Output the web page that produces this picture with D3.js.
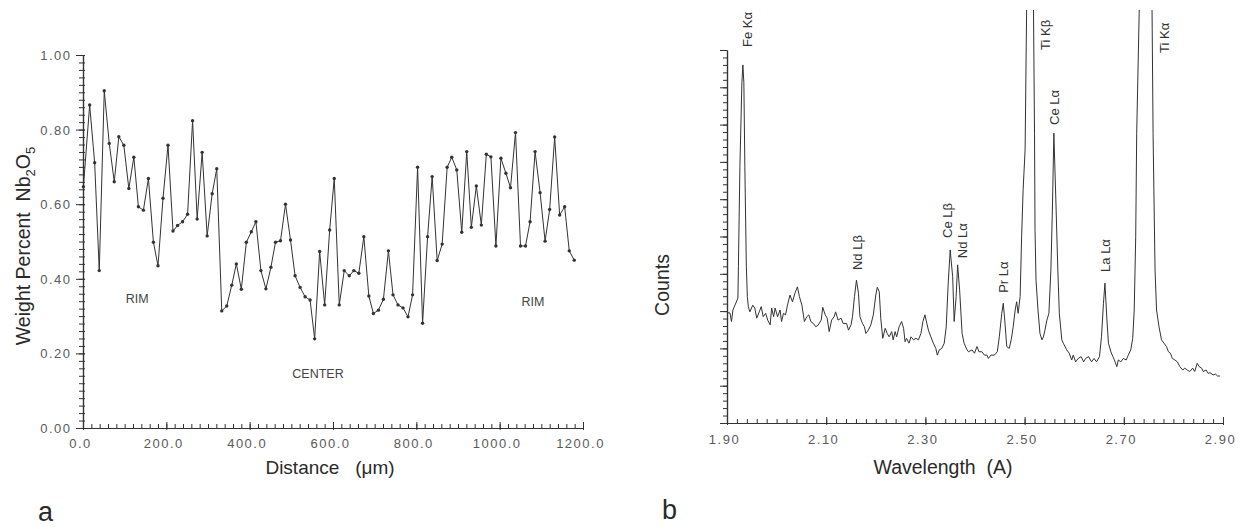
<!DOCTYPE html>
<html>
<head>
<meta charset="utf-8">
<script src="https://cdn.jsdelivr.net/npm/d3@7"></script>
<style>
  body { margin: 0; background: #fff; }
  text { font-family: "Liberation Sans", Arial, Helvetica, sans-serif; fill: #2a2a2a; }
  .tick-label { font-size: 13px; letter-spacing: 1.5px; fill: #5a5a5a; }
</style>
</head>
<body>
<svg width="1248" height="529"></svg>
<script>
// ---- panel a : Nb2O5 profile ----
const distance = [1,16,28,39, 51,63,75,86, 98,110,122,133, 145,157,169,180, 192,204,216,227,
  239,251,263,274, 286,298,310,321, 333,345,357,368, 380,392,404,415, 427,439,451,462,
  474,486,498,509, 521,533,545,556, 568,580,592,603, 615,627,639,650, 662,674,686,697,
  709,721,733,744, 756,768,780,791, 803,815,827,838, 850,862,874,885, 897,909,921,932,
  944,956,968,979, 991,1003,1015,1026, 1038,1050,1062,1073, 1085,1097,1109,1120, 1132,1144,1156,1167,
  1179];
const nb2o5 = [0.647,0.866,0.711,0.422,0.904,0.763,0.660,0.781,0.758,0.642,
  0.726,0.593,0.584,0.669,0.498,0.435,0.616,0.758,0.528,0.543,
  0.553,0.573,0.824,0.560,0.739,0.515,0.628,0.695,0.314,0.327,
  0.383,0.440,0.372,0.498,0.526,0.553,0.422,0.373,0.431,0.498,
  0.502,0.600,0.504,0.408,0.377,0.352,0.343,0.239,0.473,0.330,
  0.531,0.669,0.330,0.422,0.408,0.422,0.415,0.513,0.354,0.307,
  0.316,0.345,0.475,0.357,0.330,0.322,0.298,0.357,0.699,0.281,
  0.513,0.674,0.449,0.493,0.699,0.726,0.692,0.525,0.741,0.538,
  0.649,0.544,0.734,0.727,0.488,0.723,0.683,0.644,0.792,0.488,
  0.488,0.553,0.741,0.631,0.501,0.586,0.780,0.571,0.593,0.475,
  0.450];
const distTicks = [0, 200, 400, 600, 800, 1000, 1200];
const wtTicks = [0, 0.2, 0.4, 0.6, 0.8, 1.0];
const zoneNames = ["RIM", "CENTER", "RIM"];
const zoneDist = [130, 564, 1080];
const zoneWt = [0.335, 0.134, 0.327];

// ---- panel b : WDS spectrum ----
const wavelength = [1.900,1.906,1.909,1.912,1.918,1.922,1.923,1.926,1.930,1.932,
  1.934,1.936,1.939,1.941,1.943,1.946,1.952,1.956,1.960,1.965,
  1.969,1.973,1.978,1.982,1.987,1.990,1.994,1.997,2.002,2.007,
  2.010,2.014,2.018,2.022,2.027,2.032,2.037,2.042,2.046,2.051,
  2.056,2.061,2.065,2.069,2.074,2.079,2.084,2.090,2.093,2.098,
  2.102,2.106,2.111,2.116,2.119,2.124,2.130,2.134,2.141,2.145,
  2.150,2.153,2.157,2.161,2.165,2.168,2.173,2.177,2.180,2.185,
  2.190,2.195,2.200,2.203,2.207,2.210,2.214,2.219,2.223,2.227,
  2.232,2.235,2.239,2.242,2.247,2.252,2.256,2.259,2.262,2.267,
  2.271,2.276,2.281,2.286,2.291,2.295,2.299,2.303,2.306,2.311,
  2.316,2.321,2.324,2.328,2.333,2.338,2.342,2.346,2.350,2.355,
  2.358,2.362,2.365,2.369,2.374,2.378,2.384,2.387,2.394,2.399,
  2.404,2.408,2.414,2.419,2.424,2.427,2.432,2.439,2.445,2.449,
  2.454,2.457,2.460,2.464,2.469,2.473,2.477,2.481,2.484,2.487,
  2.491,2.494,2.497,2.501,2.504,2.511,2.518,2.520,2.521,2.523,
  2.527,2.531,2.535,2.538,2.541,2.545,2.549,2.553,2.556,2.559,
  2.563,2.567,2.570,2.575,2.578,2.585,2.590,2.595,2.598,2.603,
  2.608,2.614,2.619,2.623,2.629,2.635,2.640,2.645,2.651,2.655,
  2.659,2.662,2.666,2.669,2.674,2.678,2.681,2.686,2.689,2.694,
  2.699,2.705,2.709,2.714,2.718,2.721,2.724,2.726,2.731,2.744,
  2.757,2.759,2.763,2.766,2.771,2.776,2.781,2.786,2.790,2.794,
  2.798,2.803,2.808,2.813,2.819,2.823,2.828,2.833,2.839,2.843,
  2.848,2.852,2.857,2.860,2.866,2.870,2.874,2.880,2.885,2.889,
  2.894];
const counts = [29.6,29.5,27.2,30.3,32.2,33.5,41.9,68.7,91.2,96.0,
  91.2,68.7,41.9,33.9,31.2,29.8,31.6,30.8,28.1,29.8,
  31.2,28.5,29.4,27.6,26.3,30.8,28.5,30.8,28.5,30.3,
  27.2,29.4,29.0,31.6,34.3,32.5,34.8,36.5,33.9,31.6,
  27.2,28.5,29.0,27.2,26.7,25.8,26.3,27.6,31.0,29.0,
  28.1,24.5,27.6,28.5,29.8,27.6,28.1,26.7,26.7,24.9,
  26.3,28.5,33.9,38.3,34.8,28.5,26.7,25.8,24.0,24.9,
  26.3,29.0,34.3,36.4,35.2,28.1,22.7,25.4,24.0,23.1,
  24.5,22.3,24.5,23.1,25.8,27.2,25.4,21.8,22.7,21.4,
  23.1,22.3,22.7,22.3,24.0,27.2,29.0,26.7,24.9,23.1,
  21.4,20.0,18.2,19.6,20.0,21.4,25.8,37.5,46.4,39.2,
  27.2,33.9,42.4,35.7,24.0,21.4,19.6,19.1,19.6,18.7,
  20.5,19.1,19.1,18.2,18.2,17.3,18.2,18.2,19.1,23.1,
  29.4,32.1,27.6,20.5,20.0,22.3,25.8,30.3,32.5,29.4,
  33.9,49.9,62.5,73.2,109.9,172.4,109.9,77.7,51.7,38.3,
  30.3,24.0,22.3,23.1,24.9,27.6,29.4,41.0,57.1,77.7,
  59.8,41.0,29.4,22.3,21.4,19.6,18.7,16.9,18.2,16.4,
  17.3,17.8,16.4,17.3,17.8,16.4,17.3,16.4,17.8,23.1,
  32.1,37.5,27.6,21.4,19.1,17.8,16.9,15.1,16.9,16.4,
  17.3,16.9,18.2,19.6,22.7,30.3,49.9,77.7,109.9,201.9,
  109.9,77.7,41.0,30.3,25.8,22.3,21.4,20.5,19.1,18.7,
  17.3,16.9,16.4,15.1,14.2,14.7,14.2,13.8,14.7,13.8,
  16.0,15.1,14.7,13.8,14.2,13.3,13.5,12.9,13.1,12.6,
  12.6];
const waveTicks = [1.9, 2.1, 2.3, 2.5, 2.7, 2.9];
const peakNames = ["Fe K\u03b1", "Nd L\u03b2", "Ce L\u03b2", "Nd L\u03b1", "Pr L\u03b1",
  "Ti K\u03b2", "Ce L\u03b1", "La L\u03b1", "Ti K\u03b1"];
const peakWave = [1.942, 2.162, 2.3435, 2.374, 2.458, 2.543, 2.561, 2.662, 2.781];
const peakCount = [100.8, 41.0, 49.6, 44.2, 34.9, 100.0, 79.9, 40.5, 99.2];

const svg = d3.select("svg");

// tick styling helper: major ticks cross the axis, minor ticks are short
function styleAxis(g, horiz, inA, outA) {
  g.select(".domain").attr("stroke", "#333").attr("stroke-width", 1.2);
  g.selectAll(".tick line").attr("stroke", "#333").attr("stroke-width", 1)
    .attr(horiz ? "y1" : "x1", inA).attr(horiz ? "y2" : "x2", outA);
}

// ================= panel a =================
const xA = d3.scaleLinear().domain([0, 1200]).range([83, 583]);
const yA = d3.scaleLinear().domain([0, 1]).range([428, 55]);

const gA = svg.append("g");

// minor ticks
gA.append("g").attr("transform", "translate(0,428)")
  .call(d3.axisBottom(xA).tickValues(d3.range(0, 1201, 20)).tickFormat("").tickSizeOuter(0))
  .call(g => styleAxis(g, true, -4, 0));
gA.append("g").attr("transform", "translate(83,0)")
  .call(d3.axisLeft(yA).tickValues(d3.range(0, 1.001, 0.02)).tickFormat("").tickSizeOuter(0))
  .call(g => styleAxis(g, false, -4, 2));

// major ticks + labels
const axA = gA.append("g").attr("transform", "translate(0,428)")
  .call(d3.axisBottom(xA).tickValues(distTicks).tickFormat(d3.format(".1f")).tickSizeOuter(0))
  .call(g => styleAxis(g, true, -6, 2));
axA.selectAll(".tick text").attr("class", "tick-label").attr("y", 20).attr("dy", 0).attr("dx", -3);

const ayA = gA.append("g").attr("transform", "translate(83,0)")
  .call(d3.axisLeft(yA).tickValues(wtTicks).tickFormat(d3.format(".2f")).tickSizeOuter(0))
  .call(g => styleAxis(g, false, -7, 2));
ayA.selectAll(".tick text").attr("class", "tick-label").attr("x", -11.5).attr("dy", "0.35em");

const profile = distance.map((d, i) => ({ d, v: nb2o5[i] }));
gA.append("path").datum(profile)
  .attr("fill", "none").attr("stroke", "#333").attr("stroke-width", 1)
  .attr("d", d3.line().x(p => xA(p.d)).y(p => yA(p.v)));
gA.selectAll("circle.pt").data(profile).join("circle")
  .attr("class", "pt")
  .attr("cx", p => xA(p.d)).attr("cy", p => yA(p.v)).attr("r", 1.7)
  .attr("fill", "#333");

gA.selectAll("text.zone").data(zoneNames).join("text")
  .attr("class", "zone")
  .attr("x", (t, i) => xA(zoneDist[i])).attr("y", (t, i) => yA(zoneWt[i]))
  .attr("text-anchor", "middle").style("font-size", "12.5px").style("fill", "#444")
  .text(t => t);

// axis titles
gA.append("text").attr("x", 330).attr("y", 474).attr("text-anchor", "middle")
  .style("font-size", "19px").text("Distance   (\u03bcm)").attr("xml:space", "preserve");

const yt = gA.append("text")
  .attr("transform", "translate(30,246) rotate(-90)")
  .attr("text-anchor", "middle").style("font-size", "19.5px").attr("xml:space", "preserve");
yt.append("tspan").text("Weight Percent  Nb");
yt.append("tspan").text("2").style("font-size", "13px").attr("dy", 5);
yt.append("tspan").text("O").attr("dy", -5);
yt.append("tspan").text("5").style("font-size", "13px").attr("dy", 5);

svg.append("text").attr("x", 38).attr("y", 521).style("font-size", "27px").text("a");

// ================= panel b =================
const xB = d3.scaleLinear().domain([1.9, 2.9]).range([727, 1223]);
const yB = d3.scaleLinear().domain([0, 100]).range([423, 50]);

const gB = svg.append("g");

gB.append("g").attr("transform", "translate(0,423)")
  .call(d3.axisBottom(xB).tickValues(d3.range(0, 51).map(i => 1.9 + i * 0.02)).tickFormat("").tickSizeOuter(0))
  .call(g => styleAxis(g, true, -4, 0));
gB.append("g").attr("transform", "translate(727,0)")
  .call(d3.axisLeft(yB).tickValues(d3.range(0, 101, 2)).tickFormat("").tickSizeOuter(0))
  .call(g => styleAxis(g, false, -4, 0));
gB.append("g").attr("transform", "translate(727,0)")
  .call(d3.axisLeft(yB).tickValues(d3.range(0, 101, 10)).tickFormat("").tickSizeOuter(0))
  .call(g => styleAxis(g, false, -7, 0));

const axB = gB.append("g").attr("transform", "translate(0,423)")
  .call(d3.axisBottom(xB).tickValues(waveTicks).tickFormat(d3.format(".2f")).tickSizeOuter(0))
  .call(g => styleAxis(g, true, -6, 2));
axB.selectAll(".tick text").attr("class", "tick-label").attr("y", 21).attr("dy", 0).attr("dx", -3);

svg.append("clipPath").attr("id", "clipB")
  .append("rect").attr("x", 720).attr("y", 10).attr("width", 520).attr("height", 420);

const spectrum = wavelength.map((w, i) => ({ w, c: counts[i] }));
gB.append("path").datum(spectrum)
  .attr("clip-path", "url(#clipB)")
  .attr("fill", "none").attr("stroke", "#333").attr("stroke-width", 1)
  .attr("stroke-linejoin", "round")
  .attr("d", d3.line().x(p => xB(p.w)).y(p => yB(p.c)));

gB.selectAll("text.peak").data(peakNames).join("text")
  .attr("class", "peak")
  .attr("transform", (t, i) => `translate(${xB(peakWave[i])},${yB(peakCount[i])}) rotate(-90)`)
  .attr("dy", "0.35em").style("font-size", "13px").style("fill", "#333")
  .text(t => t);

gB.append("text").attr("x", 943).attr("y", 474).attr("text-anchor", "middle")
  .attr("xml:space", "preserve").style("font-size", "19.5px").text("Wavelength  (A)");
gB.append("text").attr("transform", "translate(669,285) rotate(-90)")
  .attr("text-anchor", "middle").style("font-size", "19.5px").text("Counts");

svg.append("text").attr("x", 662).attr("y", 519).style("font-size", "27px").text("b");
</script>
</body>
</html>
